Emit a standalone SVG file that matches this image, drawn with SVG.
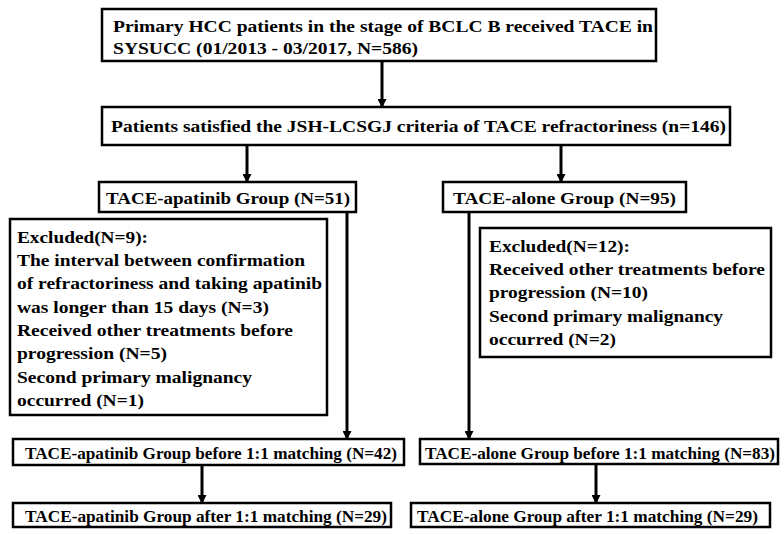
<svg xmlns="http://www.w3.org/2000/svg" width="784" height="534" viewBox="0 0 784 534">
<defs>
<marker id="ah" markerWidth="9" markerHeight="9" refX="8" refY="4.5" orient="auto" markerUnits="userSpaceOnUse">
<path d="M0,0 L9,4.5 L0,9 Z" fill="#000"/>
</marker>
<style>
.box{fill:#fff;stroke:#000;stroke-width:2.5}
.c{stroke:#000;stroke-width:3;fill:none}
text{font-family:"Liberation Serif","DejaVu Serif","Times New Roman",serif;font-weight:bold;font-size:16px;fill:#000}
</style>
</defs>
<rect width="784" height="534" fill="#fff"/>
<g id="connectors">
<line class="c" x1="382" y1="61" x2="382" y2="107" marker-end="url(#ah)"/>
<line class="c" x1="247" y1="145" x2="247" y2="182" marker-end="url(#ah)"/>
<line class="c" x1="561" y1="145" x2="561" y2="182" marker-end="url(#ah)"/>
<line class="c" x1="347" y1="212" x2="347" y2="439" marker-end="url(#ah)"/>
<line class="c" x1="469" y1="212" x2="469" y2="439" marker-end="url(#ah)"/>
<line class="c" x1="202" y1="465" x2="202" y2="503" marker-end="url(#ah)"/>
<line class="c" x1="596" y1="464" x2="596" y2="503" marker-end="url(#ah)"/>
</g>
<g id="n1">
<rect class="box" x="102" y="9" width="554" height="52"/>
<text x="113" y="32" textLength="540" lengthAdjust="spacingAndGlyphs">Primary HCC patients in the stage of BCLC B received TACE in</text>
<text x="113" y="54" textLength="305" lengthAdjust="spacingAndGlyphs">SYSUCC (01/2013 - 03/2017, N=586)</text>
</g>
<g id="n2">
<rect class="box" x="102" y="107" width="628" height="38"/>
<text x="111" y="132" textLength="615" lengthAdjust="spacingAndGlyphs">Patients satisfied the JSH-LCSGJ criteria of TACE refractoriness (n=146)</text>
</g>
<g id="n3">
<rect class="box" x="99" y="182" width="257" height="30"/>
<text x="106" y="204" textLength="244" lengthAdjust="spacingAndGlyphs">TACE-apatinib Group (N=51)</text>
</g>
<g id="n4">
<rect class="box" x="443" y="182" width="243" height="30"/>
<text x="453" y="204" textLength="223" lengthAdjust="spacingAndGlyphs">TACE-alone Group (N=95)</text>
</g>
<g id="n5">
<rect class="box" x="10" y="219" width="317" height="196"/>
<text x="17" y="243" textLength="131" lengthAdjust="spacingAndGlyphs">Excluded(N=9):</text>
<text x="17" y="266" textLength="288" lengthAdjust="spacingAndGlyphs">The interval between confirmation</text>
<text x="17" y="289" textLength="305" lengthAdjust="spacingAndGlyphs">of refractoriness and taking apatinib</text>
<text x="17" y="313" textLength="252" lengthAdjust="spacingAndGlyphs">was longer than 15 days (N=3)</text>
<text x="17" y="336" textLength="276" lengthAdjust="spacingAndGlyphs">Received other treatments before</text>
<text x="17" y="359" textLength="150" lengthAdjust="spacingAndGlyphs">progression (N=5)</text>
<text x="17" y="383" textLength="235" lengthAdjust="spacingAndGlyphs">Second primary malignancy</text>
<text x="17" y="406" textLength="127" lengthAdjust="spacingAndGlyphs">occurred (N=1)</text>
</g>
<g id="n6">
<rect class="box" x="480" y="228" width="291" height="129"/>
<text x="489" y="252" textLength="141" lengthAdjust="spacingAndGlyphs">Excluded(N=12):</text>
<text x="489" y="275" textLength="276" lengthAdjust="spacingAndGlyphs">Received other treatments before</text>
<text x="489" y="298" textLength="159" lengthAdjust="spacingAndGlyphs">progression (N=10)</text>
<text x="489" y="322" textLength="234" lengthAdjust="spacingAndGlyphs">Second primary malignancy</text>
<text x="489" y="345" textLength="127" lengthAdjust="spacingAndGlyphs">occurred (N=2)</text>
</g>
<g id="n7">
<rect class="box" x="13" y="439" width="391" height="26"/>
<text x="25" y="459" textLength="372" lengthAdjust="spacingAndGlyphs">TACE-apatinib Group before 1:1 matching (N=42)</text>
</g>
<g id="n8">
<rect class="box" x="420" y="439" width="358" height="25"/>
<text x="425" y="459" textLength="350" lengthAdjust="spacingAndGlyphs">TACE-alone Group before 1:1 matching (N=83)</text>
</g>
<g id="n9">
<rect class="box" x="13" y="503" width="378" height="24"/>
<text x="25" y="522" textLength="362" lengthAdjust="spacingAndGlyphs">TACE-apatinib Group after 1:1 matching (N=29)</text>
</g>
<g id="n10">
<rect class="box" x="411" y="503" width="359" height="24"/>
<text x="417" y="522" textLength="341" lengthAdjust="spacingAndGlyphs">TACE-alone Group after 1:1 matching (N=29)</text>
</g>
</svg>
